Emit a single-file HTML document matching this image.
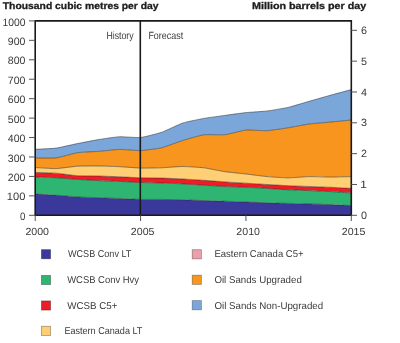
<!DOCTYPE html>
<html><head><meta charset="utf-8"><style>
html,body{margin:0;padding:0;background:#fff;width:400px;height:343px;overflow:hidden}
svg{display:block;font-family:"Liberation Sans",sans-serif;will-change:transform;text-rendering:geometricPrecision}
</style></head><body>
<svg width="400" height="343" viewBox="0 0 400 343">
<rect width="400" height="343" fill="#fff"/>
<path d="M35.20,194.10 C36.78,194.18 53.11,194.99 56.27,195.20 C59.43,195.41 74.19,196.71 77.35,196.90 C80.51,197.09 95.26,197.58 98.42,197.70 C101.58,197.82 116.33,198.37 119.49,198.50 C122.65,198.63 137.41,199.33 140.57,199.40 C143.73,199.47 158.48,199.37 161.64,199.40 C164.80,199.43 179.55,199.71 182.71,199.80 C185.87,199.89 200.63,200.50 203.79,200.60 C206.95,200.70 221.70,201.09 224.86,201.20 C228.02,201.31 242.77,201.98 245.93,202.10 C249.09,202.22 263.85,202.70 267.01,202.80 C270.17,202.90 284.92,203.32 288.08,203.40 C291.24,203.48 305.99,203.81 309.15,203.90 C312.31,203.99 327.07,204.47 330.23,204.60 C333.39,204.73 349.72,205.53 351.30,205.60 L351.30,215.30 C349.72,215.30 333.39,215.30 330.23,215.30 C327.07,215.30 312.31,215.30 309.15,215.30 C305.99,215.30 291.24,215.30 288.08,215.30 C284.92,215.30 270.17,215.30 267.01,215.30 C263.85,215.30 249.09,215.30 245.93,215.30 C242.77,215.30 228.02,215.30 224.86,215.30 C221.70,215.30 206.95,215.30 203.79,215.30 C200.63,215.30 185.87,215.30 182.71,215.30 C179.55,215.30 164.80,215.30 161.64,215.30 C158.48,215.30 143.73,215.30 140.57,215.30 C137.41,215.30 122.65,215.30 119.49,215.30 C116.33,215.30 101.58,215.30 98.42,215.30 C95.26,215.30 80.51,215.30 77.35,215.30 C74.19,215.30 59.43,215.30 56.27,215.30 C53.11,215.30 36.78,215.30 35.20,215.30 Z" fill="#3a389b"/>
<path d="M35.20,177.00 C36.78,177.06 53.11,177.62 56.27,177.80 C59.43,177.98 74.19,179.19 77.35,179.40 C80.51,179.61 95.26,180.45 98.42,180.60 C101.58,180.75 116.33,181.26 119.49,181.40 C122.65,181.54 137.41,182.38 140.57,182.50 C143.73,182.62 158.48,182.90 161.64,183.00 C164.80,183.10 179.55,183.73 182.71,183.90 C185.87,184.06 200.63,185.01 203.79,185.20 C206.95,185.40 221.70,186.34 224.86,186.50 C228.02,186.66 242.77,187.16 245.93,187.30 C249.09,187.44 263.85,188.21 267.01,188.40 C270.17,188.59 284.92,189.64 288.08,189.80 C291.24,189.97 305.99,190.47 309.15,190.60 C312.31,190.73 327.07,191.42 330.23,191.60 C333.39,191.78 349.72,192.90 351.30,193.00 L351.30,205.60 C349.72,205.53 333.39,204.73 330.23,204.60 C327.07,204.47 312.31,203.99 309.15,203.90 C305.99,203.81 291.24,203.48 288.08,203.40 C284.92,203.32 270.17,202.90 267.01,202.80 C263.85,202.70 249.09,202.22 245.93,202.10 C242.77,201.98 228.02,201.31 224.86,201.20 C221.70,201.09 206.95,200.70 203.79,200.60 C200.63,200.50 185.87,199.89 182.71,199.80 C179.55,199.71 164.80,199.43 161.64,199.40 C158.48,199.37 143.73,199.47 140.57,199.40 C137.41,199.33 122.65,198.63 119.49,198.50 C116.33,198.37 101.58,197.82 98.42,197.70 C95.26,197.58 80.51,197.09 77.35,196.90 C74.19,196.71 59.43,195.41 56.27,195.20 C53.11,194.99 36.78,194.18 35.20,194.10 Z" fill="#2eb571"/>
<path d="M35.20,172.40 C36.78,172.46 53.11,172.95 56.27,173.20 C59.43,173.45 74.19,175.49 77.35,175.70 C80.51,175.91 95.26,175.92 98.42,176.00 C101.58,176.08 116.33,176.66 119.49,176.80 C122.65,176.93 137.41,177.70 140.57,177.80 C143.73,177.90 158.48,178.01 161.64,178.10 C164.80,178.19 179.55,178.84 182.71,179.00 C185.87,179.16 200.63,180.08 203.79,180.30 C206.95,180.52 221.70,181.68 224.86,181.90 C228.02,182.12 242.77,183.01 245.93,183.20 C249.09,183.40 263.85,184.31 267.01,184.50 C270.17,184.69 284.92,185.55 288.08,185.70 C291.24,185.85 305.99,186.38 309.15,186.50 C312.31,186.62 327.07,187.16 330.23,187.30 C333.39,187.44 349.72,188.32 351.30,188.40 L351.30,193.00 C349.72,192.90 333.39,191.78 330.23,191.60 C327.07,191.42 312.31,190.73 309.15,190.60 C305.99,190.47 291.24,189.97 288.08,189.80 C284.92,189.64 270.17,188.59 267.01,188.40 C263.85,188.21 249.09,187.44 245.93,187.30 C242.77,187.16 228.02,186.66 224.86,186.50 C221.70,186.34 206.95,185.40 203.79,185.20 C200.63,185.01 185.87,184.06 182.71,183.90 C179.55,183.73 164.80,183.10 161.64,183.00 C158.48,182.90 143.73,182.62 140.57,182.50 C137.41,182.38 122.65,181.54 119.49,181.40 C116.33,181.26 101.58,180.75 98.42,180.60 C95.26,180.45 80.51,179.61 77.35,179.40 C74.19,179.19 59.43,177.98 56.27,177.80 C53.11,177.62 36.78,177.06 35.20,177.00 Z" fill="#ed1c26"/>
<path d="M35.20,167.50 C36.78,167.58 53.11,168.70 56.27,168.60 C59.43,168.50 74.19,166.39 77.35,166.20 C80.51,166.00 95.26,165.96 98.42,166.00 C101.58,166.04 116.33,166.54 119.49,166.70 C122.65,166.86 137.41,168.02 140.57,168.10 C143.73,168.18 158.48,167.92 161.64,167.80 C164.80,167.68 179.55,166.50 182.71,166.50 C185.87,166.50 200.63,167.41 203.79,167.80 C206.95,168.19 221.70,171.23 224.86,171.70 C228.02,172.16 242.77,173.63 245.93,174.00 C249.09,174.37 263.85,176.31 267.01,176.60 C270.17,176.89 284.92,177.90 288.08,177.90 C291.24,177.90 305.99,176.66 309.15,176.60 C312.31,176.54 327.07,177.10 330.23,177.10 C333.39,177.10 349.72,176.64 351.30,176.60 L351.30,188.40 C349.72,188.32 333.39,187.44 330.23,187.30 C327.07,187.16 312.31,186.62 309.15,186.50 C305.99,186.38 291.24,185.85 288.08,185.70 C284.92,185.55 270.17,184.69 267.01,184.50 C263.85,184.31 249.09,183.40 245.93,183.20 C242.77,183.01 228.02,182.12 224.86,181.90 C221.70,181.68 206.95,180.52 203.79,180.30 C200.63,180.08 185.87,179.16 182.71,179.00 C179.55,178.84 164.80,178.19 161.64,178.10 C158.48,178.01 143.73,177.90 140.57,177.80 C137.41,177.70 122.65,176.93 119.49,176.80 C116.33,176.66 101.58,176.08 98.42,176.00 C95.26,175.92 80.51,175.91 77.35,175.70 C74.19,175.49 59.43,173.45 56.27,173.20 C53.11,172.95 36.78,172.46 35.20,172.40 Z" fill="#fecf74"/>
<path d="M35.20,158.00 C36.78,157.99 53.11,158.30 56.27,157.90 C59.43,157.50 74.19,153.19 77.35,152.70 C80.51,152.21 95.26,151.65 98.42,151.40 C101.58,151.15 116.33,149.46 119.49,149.40 C122.65,149.34 137.41,150.72 140.57,150.60 C143.73,150.48 158.48,148.56 161.64,147.80 C164.80,147.04 179.55,141.47 182.71,140.50 C185.87,139.53 200.63,135.24 203.79,134.80 C206.95,134.37 221.70,135.05 224.86,134.70 C228.02,134.35 242.77,130.40 245.93,130.10 C249.09,129.80 263.85,130.87 267.01,130.70 C270.17,130.53 284.92,128.30 288.08,127.80 C291.24,127.30 305.99,124.43 309.15,124.00 C312.31,123.57 327.07,122.40 330.23,122.10 C333.39,121.80 349.72,120.16 351.30,120.00 L351.30,176.60 C349.72,176.64 333.39,177.10 330.23,177.10 C327.07,177.10 312.31,176.54 309.15,176.60 C305.99,176.66 291.24,177.90 288.08,177.90 C284.92,177.90 270.17,176.89 267.01,176.60 C263.85,176.31 249.09,174.37 245.93,174.00 C242.77,173.63 228.02,172.16 224.86,171.70 C221.70,171.23 206.95,168.19 203.79,167.80 C200.63,167.41 185.87,166.50 182.71,166.50 C179.55,166.50 164.80,167.68 161.64,167.80 C158.48,167.92 143.73,168.18 140.57,168.10 C137.41,168.02 122.65,166.86 119.49,166.70 C116.33,166.54 101.58,166.04 98.42,166.00 C95.26,165.96 80.51,166.00 77.35,166.20 C74.19,166.39 59.43,168.50 56.27,168.60 C53.11,168.70 36.78,167.58 35.20,167.50 Z" fill="#f7951f"/>
<path d="M35.20,149.30 C36.78,149.21 53.11,148.53 56.27,148.10 C59.43,147.67 74.19,144.24 77.35,143.60 C80.51,142.96 95.26,140.12 98.42,139.60 C101.58,139.08 116.33,136.86 119.49,136.70 C122.65,136.54 137.41,137.83 140.57,137.50 C143.73,137.17 158.48,133.39 161.64,132.30 C164.80,131.21 179.55,124.04 182.71,123.00 C185.87,121.96 200.63,118.97 203.79,118.40 C206.95,117.83 221.70,115.84 224.86,115.40 C228.02,114.97 242.77,112.93 245.93,112.60 C249.09,112.27 263.85,111.39 267.01,111.00 C270.17,110.61 284.92,108.13 288.08,107.40 C291.24,106.67 305.99,102.21 309.15,101.30 C312.31,100.39 327.07,96.18 330.23,95.30 C333.39,94.42 349.72,90.03 351.30,89.60 L351.30,120.00 C349.72,120.16 333.39,121.80 330.23,122.10 C327.07,122.40 312.31,123.57 309.15,124.00 C305.99,124.43 291.24,127.30 288.08,127.80 C284.92,128.30 270.17,130.53 267.01,130.70 C263.85,130.87 249.09,129.80 245.93,130.10 C242.77,130.40 228.02,134.35 224.86,134.70 C221.70,135.05 206.95,134.37 203.79,134.80 C200.63,135.24 185.87,139.53 182.71,140.50 C179.55,141.47 164.80,147.04 161.64,147.80 C158.48,148.56 143.73,150.48 140.57,150.60 C137.41,150.72 122.65,149.34 119.49,149.40 C116.33,149.46 101.58,151.15 98.42,151.40 C95.26,151.65 80.51,152.21 77.35,152.70 C74.19,153.19 59.43,157.50 56.27,157.90 C53.11,158.30 36.78,157.99 35.20,158.00 Z" fill="#7ba6da"/>
<path d="M35.20,149.30 C36.78,149.21 53.11,148.53 56.27,148.10 C59.43,147.67 74.19,144.24 77.35,143.60 C80.51,142.96 95.26,140.12 98.42,139.60 C101.58,139.08 116.33,136.86 119.49,136.70 C122.65,136.54 137.41,137.83 140.57,137.50 C143.73,137.17 158.48,133.39 161.64,132.30 C164.80,131.21 179.55,124.04 182.71,123.00 C185.87,121.96 200.63,118.97 203.79,118.40 C206.95,117.83 221.70,115.84 224.86,115.40 C228.02,114.97 242.77,112.93 245.93,112.60 C249.09,112.27 263.85,111.39 267.01,111.00 C270.17,110.61 284.92,108.13 288.08,107.40 C291.24,106.67 305.99,102.21 309.15,101.30 C312.31,100.39 327.07,96.18 330.23,95.30 C333.39,94.42 349.72,90.03 351.30,89.60" fill="none" stroke="#222" stroke-opacity="0.65" stroke-width="0.75"/>
<path d="M35.20,158.00 C36.78,157.99 53.11,158.30 56.27,157.90 C59.43,157.50 74.19,153.19 77.35,152.70 C80.51,152.21 95.26,151.65 98.42,151.40 C101.58,151.15 116.33,149.46 119.49,149.40 C122.65,149.34 137.41,150.72 140.57,150.60 C143.73,150.48 158.48,148.56 161.64,147.80 C164.80,147.04 179.55,141.47 182.71,140.50 C185.87,139.53 200.63,135.24 203.79,134.80 C206.95,134.37 221.70,135.05 224.86,134.70 C228.02,134.35 242.77,130.40 245.93,130.10 C249.09,129.80 263.85,130.87 267.01,130.70 C270.17,130.53 284.92,128.30 288.08,127.80 C291.24,127.30 305.99,124.43 309.15,124.00 C312.31,123.57 327.07,122.40 330.23,122.10 C333.39,121.80 349.72,120.16 351.30,120.00" fill="none" stroke="#222" stroke-opacity="0.65" stroke-width="0.75"/>
<path d="M35.20,167.50 C36.78,167.58 53.11,168.70 56.27,168.60 C59.43,168.50 74.19,166.39 77.35,166.20 C80.51,166.00 95.26,165.96 98.42,166.00 C101.58,166.04 116.33,166.54 119.49,166.70 C122.65,166.86 137.41,168.02 140.57,168.10 C143.73,168.18 158.48,167.92 161.64,167.80 C164.80,167.68 179.55,166.50 182.71,166.50 C185.87,166.50 200.63,167.41 203.79,167.80 C206.95,168.19 221.70,171.23 224.86,171.70 C228.02,172.16 242.77,173.63 245.93,174.00 C249.09,174.37 263.85,176.31 267.01,176.60 C270.17,176.89 284.92,177.90 288.08,177.90 C291.24,177.90 305.99,176.66 309.15,176.60 C312.31,176.54 327.07,177.10 330.23,177.10 C333.39,177.10 349.72,176.64 351.30,176.60" fill="none" stroke="#222" stroke-opacity="0.65" stroke-width="0.75"/>
<path d="M35.20,172.40 C36.78,172.46 53.11,172.95 56.27,173.20 C59.43,173.45 74.19,175.49 77.35,175.70 C80.51,175.91 95.26,175.92 98.42,176.00 C101.58,176.08 116.33,176.66 119.49,176.80 C122.65,176.93 137.41,177.70 140.57,177.80 C143.73,177.90 158.48,178.01 161.64,178.10 C164.80,178.19 179.55,178.84 182.71,179.00 C185.87,179.16 200.63,180.08 203.79,180.30 C206.95,180.52 221.70,181.68 224.86,181.90 C228.02,182.12 242.77,183.01 245.93,183.20 C249.09,183.40 263.85,184.31 267.01,184.50 C270.17,184.69 284.92,185.55 288.08,185.70 C291.24,185.85 305.99,186.38 309.15,186.50 C312.31,186.62 327.07,187.16 330.23,187.30 C333.39,187.44 349.72,188.32 351.30,188.40" fill="none" stroke="#222" stroke-opacity="0.65" stroke-width="0.75"/>
<path d="M35.20,177.00 C36.78,177.06 53.11,177.62 56.27,177.80 C59.43,177.98 74.19,179.19 77.35,179.40 C80.51,179.61 95.26,180.45 98.42,180.60 C101.58,180.75 116.33,181.26 119.49,181.40 C122.65,181.54 137.41,182.38 140.57,182.50 C143.73,182.62 158.48,182.90 161.64,183.00 C164.80,183.10 179.55,183.73 182.71,183.90 C185.87,184.06 200.63,185.01 203.79,185.20 C206.95,185.40 221.70,186.34 224.86,186.50 C228.02,186.66 242.77,187.16 245.93,187.30 C249.09,187.44 263.85,188.21 267.01,188.40 C270.17,188.59 284.92,189.64 288.08,189.80 C291.24,189.97 305.99,190.47 309.15,190.60 C312.31,190.73 327.07,191.42 330.23,191.60 C333.39,191.78 349.72,192.90 351.30,193.00" fill="none" stroke="#222" stroke-opacity="0.65" stroke-width="0.75"/>
<path d="M35.20,194.10 C36.78,194.18 53.11,194.99 56.27,195.20 C59.43,195.41 74.19,196.71 77.35,196.90 C80.51,197.09 95.26,197.58 98.42,197.70 C101.58,197.82 116.33,198.37 119.49,198.50 C122.65,198.63 137.41,199.33 140.57,199.40 C143.73,199.47 158.48,199.37 161.64,199.40 C164.80,199.43 179.55,199.71 182.71,199.80 C185.87,199.89 200.63,200.50 203.79,200.60 C206.95,200.70 221.70,201.09 224.86,201.20 C228.02,201.31 242.77,201.98 245.93,202.10 C249.09,202.22 263.85,202.70 267.01,202.80 C270.17,202.90 284.92,203.32 288.08,203.40 C291.24,203.48 305.99,203.81 309.15,203.90 C312.31,203.99 327.07,204.47 330.23,204.60 C333.39,204.73 349.72,205.53 351.30,205.60" fill="none" stroke="#222" stroke-opacity="0.65" stroke-width="0.75"/>
<path d="M35.2,215.3 V20.9 H351.3 V215.3 Z" fill="none" stroke="#1a1a1a" stroke-width="1.6"/>
<line x1="140.3" y1="20.9" x2="140.3" y2="215.3" stroke="#1a1a1a" stroke-width="1.6"/>
<path d="M29,215.30H35.2 M29,195.86H35.2 M29,176.42H35.2 M29,156.98H35.2 M29,137.54H35.2 M29,118.10H35.2 M29,98.66H35.2 M29,79.22H35.2 M29,59.78H35.2 M29,40.34H35.2 M29,20.90H35.2 M351.3,215.30H357 M351.3,184.47H357 M351.3,153.64H357 M351.3,122.81H357 M351.3,91.98H357 M351.3,61.15H357 M351.3,30.32H357 M35.20,215.3V221 M140.57,215.3V221 M245.94,215.3V221 M351.31,215.3V221" stroke="#555" stroke-width="1" fill="none"/>
<g class="t"><text id="yl0" x="20.00" y="219.90" font-size="10.6" fill="#3a3a3a" textLength="5.40" lengthAdjust="spacingAndGlyphs">0</text><text id="yl1" x="6.80" y="200.46" font-size="10.6" fill="#3a3a3a" textLength="18.60" lengthAdjust="spacingAndGlyphs">100</text><text id="yl2" x="7.80" y="181.02" font-size="10.6" fill="#3a3a3a" textLength="17.60" lengthAdjust="spacingAndGlyphs">200</text><text id="yl3" x="7.80" y="161.58" font-size="10.6" fill="#3a3a3a" textLength="17.60" lengthAdjust="spacingAndGlyphs">300</text><text id="yl4" x="7.80" y="142.14" font-size="10.6" fill="#3a3a3a" textLength="17.60" lengthAdjust="spacingAndGlyphs">400</text><text id="yl5" x="7.80" y="122.70" font-size="10.6" fill="#3a3a3a" textLength="17.60" lengthAdjust="spacingAndGlyphs">500</text><text id="yl6" x="7.80" y="103.26" font-size="10.6" fill="#3a3a3a" textLength="17.60" lengthAdjust="spacingAndGlyphs">600</text><text id="yl7" x="7.80" y="83.82" font-size="10.6" fill="#3a3a3a" textLength="17.60" lengthAdjust="spacingAndGlyphs">700</text><text id="yl8" x="7.80" y="64.38" font-size="10.6" fill="#3a3a3a" textLength="17.60" lengthAdjust="spacingAndGlyphs">800</text><text id="yl9" x="7.80" y="44.94" font-size="10.6" fill="#3a3a3a" textLength="17.60" lengthAdjust="spacingAndGlyphs">900</text><text id="yl10" x="2.40" y="25.50" font-size="10.6" fill="#3a3a3a" textLength="23.00" lengthAdjust="spacingAndGlyphs">1000</text><text id="yr0" x="361.00" y="218.90" font-size="10.6" fill="#3a3a3a" textLength="6.00" lengthAdjust="spacingAndGlyphs">0</text><text id="yr1" x="360.00" y="188.07" font-size="10.6" fill="#3a3a3a" textLength="7.00" lengthAdjust="spacingAndGlyphs">1</text><text id="yr2" x="361.00" y="157.24" font-size="10.6" fill="#3a3a3a" textLength="6.00" lengthAdjust="spacingAndGlyphs">2</text><text id="yr3" x="361.00" y="126.41" font-size="10.6" fill="#3a3a3a" textLength="6.00" lengthAdjust="spacingAndGlyphs">3</text><text id="yr4" x="361.00" y="95.58" font-size="10.6" fill="#3a3a3a" textLength="6.00" lengthAdjust="spacingAndGlyphs">4</text><text id="yr5" x="361.00" y="64.75" font-size="10.6" fill="#3a3a3a" textLength="6.00" lengthAdjust="spacingAndGlyphs">5</text><text id="yr6" x="361.00" y="33.92" font-size="10.6" fill="#3a3a3a" textLength="6.00" lengthAdjust="spacingAndGlyphs">6</text><text id="x0" x="25.40" y="234.60" font-size="10.3" fill="#3a3a3a" textLength="23.60" lengthAdjust="spacingAndGlyphs">2000</text><text id="x1" x="130.88" y="234.60" font-size="10.3" fill="#3a3a3a" textLength="23.60" lengthAdjust="spacingAndGlyphs">2005</text><text id="x2" x="236.36" y="234.60" font-size="10.3" fill="#3a3a3a" textLength="23.60" lengthAdjust="spacingAndGlyphs">2010</text><text id="x3" x="341.84" y="234.60" font-size="10.3" fill="#3a3a3a" textLength="23.60" lengthAdjust="spacingAndGlyphs">2015</text><text id="hist" x="106.40" y="38.60" font-size="10.4" fill="#3a3a3a" textLength="27.20" lengthAdjust="spacingAndGlyphs">History</text><text id="fore" x="148.40" y="38.70" font-size="10.4" fill="#3a3a3a" textLength="34.80" lengthAdjust="spacingAndGlyphs">Forecast</text><text id="tl" x="2.80" y="9.25" font-size="9.7" font-weight="bold" stroke="#1e1e1e" stroke-width="0.3" fill="#1e1e1e" textLength="155.80" lengthAdjust="spacingAndGlyphs">Thousand cubic metres per day</text><text id="tr" x="252.00" y="9.25" font-size="9.7" font-weight="bold" stroke="#1e1e1e" stroke-width="0.3" fill="#1e1e1e" textLength="114.20" lengthAdjust="spacingAndGlyphs">Million barrels per day</text><text id="L1" x="68.00" y="257.10" font-size="9.9" fill="#3a3a3a" textLength="63.40" lengthAdjust="spacingAndGlyphs">WCSB Conv LT</text><text id="L2" x="67.20" y="283.00" font-size="9.9" fill="#3a3a3a" textLength="71.80" lengthAdjust="spacingAndGlyphs">WCSB Conv Hvy</text><text id="L3" x="67.20" y="308.80" font-size="9.9" fill="#3a3a3a" textLength="50.20" lengthAdjust="spacingAndGlyphs">WCSB C5+</text><text id="L4" x="64.40" y="334.30" font-size="9.9" fill="#3a3a3a" textLength="78.00" lengthAdjust="spacingAndGlyphs">Eastern Canada LT</text><text id="R1" x="214.40" y="257.10" font-size="9.9" fill="#3a3a3a" textLength="89.20" lengthAdjust="spacingAndGlyphs">Eastern Canada C5+</text><text id="R2" x="214.40" y="283.00" font-size="9.9" fill="#3a3a3a" textLength="87.40" lengthAdjust="spacingAndGlyphs">Oil Sands Upgraded</text><text id="R3" x="214.40" y="308.80" font-size="9.9" fill="#3a3a3a" textLength="108.80" lengthAdjust="spacingAndGlyphs">Oil Sands Non-Upgraded</text></g>
<rect x="41.4" y="249.6" width="9.2" height="9.2" fill="#3a389b" stroke="#000" stroke-opacity="0.35" stroke-width="0.8"/>
<rect x="41.4" y="275.4" width="9.2" height="9.2" fill="#2eb571" stroke="#000" stroke-opacity="0.35" stroke-width="0.8"/>
<rect x="41.4" y="300.9" width="9.2" height="9.2" fill="#ed1c26" stroke="#000" stroke-opacity="0.35" stroke-width="0.8"/>
<rect x="41.4" y="326.3" width="9.2" height="9.2" fill="#fecf74" stroke="#000" stroke-opacity="0.35" stroke-width="0.8"/>
<rect x="192.2" y="249.7" width="9.2" height="9.2" fill="#e8a1aa" stroke="#000" stroke-opacity="0.35" stroke-width="0.8"/>
<rect x="192.2" y="275.2" width="9.2" height="9.2" fill="#f7951f" stroke="#000" stroke-opacity="0.35" stroke-width="0.8"/>
<rect x="192.2" y="300.6" width="9.2" height="9.2" fill="#7ba6da" stroke="#000" stroke-opacity="0.35" stroke-width="0.8"/>
</svg>
</body></html>
